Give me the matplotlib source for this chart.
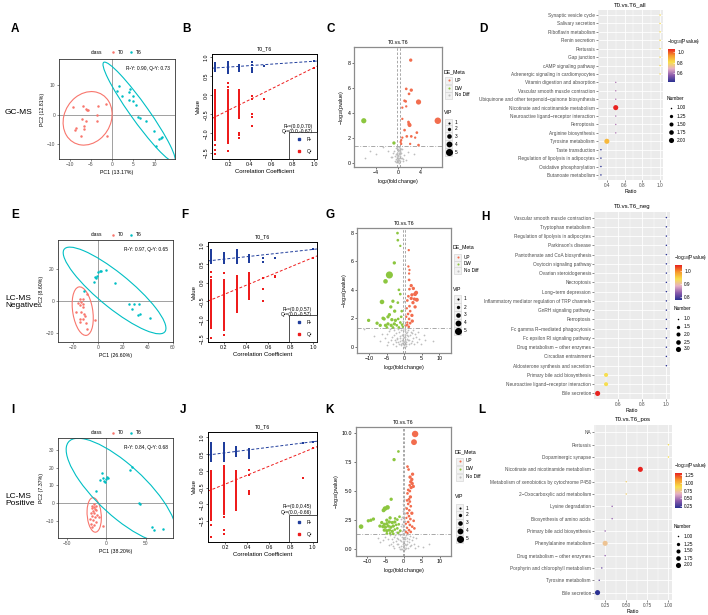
import numpy as np
import matplotlib
matplotlib.use("Agg")
import matplotlib.pyplot as plt
from matplotlib.patches import Ellipse, Rectangle
from matplotlib.lines import Line2D
from matplotlib.colors import LinearSegmentedColormap, Normalize
import matplotlib.colorbar as mcolorbar

plt.rcParams['font.family'] = ['Liberation Sans', 'DejaVu Sans']
plt.rcParams['mathtext.default'] = 'regular'

# ======================= DATA =======================
# ---- PCA score plots (PC1, PC2) ----
A_T0 = [(-9.2, 2.6), (-6.9, 2.8), (-5.9, 1.7), (-5.7, 1.7), (-6.2, 1.9), (-3.4, 3.0), (-1.5, 3.5),
        (-3.5, -0.1), (-3.5, -2.0), (-7.0, -1.5), (-6.2, -2.2), (-8.7, -5.1), (-8.4, -4.6),
        (-6.7, -3.9), (-6.6, -4.8), (-7.4, -7.3), (-1.3, -7.1)]
A_T6 = [(1.7, 9.8), (1.2, 7.9), (2.4, 6.4), (3.9, 7.8), (4.3, 8.7), (4.8, 6.2), (4.0, 5.1), (5.0, 4.7),
        (5.6, 3.1), (6.1, -0.8), (6.5, -1.2), (7.9, -2.2), (9.8, -5.6), (11.1, -8.2), (11.7, -7.5),
        (11.5, -7.9), (10.4, -10.7)]
E_T0 = [(-8.8, 4.4), (-14.5, 1.0), (-12.3, 1.0), (-13.9, -0.4), (-15.8, -1.0), (-14.7, -2.3),
        (-12.1, -2.1), (-17.7, -6.7), (-13.4, -6.9), (-11.5, -8.2), (-10.2, -9.4), (-14.5, -11.1),
        (-12.1, -11.5), (-14.7, -13.2), (-9.9, -14.0), (-9.1, -17.2), (-2.1, -12.1), (-11.6, -4.0)]
E_T6 = [(-11.3, 6.3), (-2.9, 11.5), (-2.4, 14.9), (-1.6, 14.0), (-0.3, 15.7), (0.3, 18.2), (1.6, 18.8),
        (2.9, 18.8), (6.2, 19.5), (13.4, 11.1), (24.7, -1.7), (27.6, -5.2), (28.7, -1.9), (33.0, -1.7),
        (32.4, -8.6), (33.8, -8.4), (41.8, -10.3)]
I_T0 = [(-17.9, -1.5), (-15.7, -2.2), (-18.7, -2.8), (-14.9, -3.1), (-17.0, -4.3), (-13.2, -3.9),
        (-20.0, -5.2), (-16.2, -5.7), (-12.3, -6.5), (-18.3, -6.9), (-14.9, -7.8), (-9.8, -7.4),
        (-20.4, -8.7), (-17.0, -9.6), (-13.6, -10.2), (-19.1, -11.5), (-15.7, -12.0), (-17.9, -13.0),
        (-4.3, -12.6), (-16.2, -0.4), (-12.8, -1.5)]
I_T6 = [(-12.8, 6.7), (-8.5, 13.3), (-6.0, 17.0), (-4.7, 13.9), (-3.0, 12.4), (-0.9, 13.5), (0.9, 14.8),
        (1.7, 13.9), (-1.7, 11.9), (29.8, 18.5), (33.2, 20.4), (41.7, 0.0), (42.6, -0.2), (57.9, -13.0),
        (60.4, -15.2), (72.3, -14.1)]
PCA_stats = ["R²Y: 0.90, Q²Y: 0.73", "R²Y: 0.97, Q²Y: 0.65", "R²Y: 0.84, Q²Y: 0.68"]
PCA_xlabels = ["PC1 (13.17%)", "PC1 (26.60%)", "PC1 (38.20%)"]
PCA_ylabels = ["PC2 (12.81%)", "PC2 (8.60%)", "PC2 (7.37%)"]

# ---- Permutation tests (correlation coefficient columns, R2 / Q2 values) ----
B_cols = [0.07, 0.19, 0.30, 0.42, 0.53, 1.00]
B_R2 = [[0.63, 0.65, 0.67, 0.68, 0.70, 0.71, 0.72, 0.73, 0.74, 0.75, 0.76, 0.77, 0.78, 0.79, 0.80, 0.82, 0.84, 0.85],
        [0.58, 0.62, 0.64, 0.66, 0.68, 0.69, 0.70, 0.71, 0.72, 0.73, 0.74, 0.75, 0.76, 0.78, 0.79, 0.81, 0.83, 0.86],
        [0.63, 0.66, 0.69, 0.71, 0.72, 0.74, 0.76, 0.78, 0.80],
        [0.60, 0.66, 0.72, 0.78, 0.86],
        [0.76],
        [0.89]]
B_Q2 = [[0.15, 0.12, 0.08, 0.05, 0.01, -0.03, -0.07, -0.11, -0.15, -0.19, -0.23, -0.27, -0.31, -0.35, -0.39,
         -0.43, -0.47, -0.51, -0.55, -0.59, -0.63, -0.67, -0.71, -0.75, -0.79, -0.83, -0.87, -0.91, -0.95,
         -0.99, -1.03, -1.07, -1.11, -1.16, -1.31, -1.44, -1.55],
        [0.32, 0.22, 0.15, 0.11, 0.07, 0.03, -0.01, -0.05, -0.09, -0.13, -0.17, -0.21, -0.25, -0.29, -0.33,
         -0.37, -0.41, -0.45, -0.49, -0.53, -0.57, -0.61, -0.65, -0.69, -0.73, -0.77, -0.81, -0.85, -0.89,
         -0.93, -0.97, -1.01, -1.05, -1.09, -1.13, -1.17, -1.21, -1.25, -1.47],
        [0.15, 0.11, 0.07, 0.03, -0.01, -0.05, -0.09, -0.13, -0.17, -0.21, -0.25, -0.29, -0.33, -0.37, -0.41,
         -0.45, -0.49, -0.53, -0.57, -0.60, -0.99, -1.03, -1.12],
        [-0.03, -0.11, -0.50, -0.57, -0.81],
        [-0.09],
        [0.72]]
B_int = (0.70, -0.67)

F_cols = [0.09, 0.20, 0.32, 0.43, 0.55, 0.66, 1.00]
F_R2 = [[0.52, 0.55, 0.58, 0.61, 0.64, 0.67, 0.70, 0.73, 0.76, 0.79, 0.82, 0.85, 0.88],
        [0.52, 0.55, 0.58, 0.61, 0.64, 0.67, 0.70, 0.73, 0.76, 0.80],
        [0.52, 0.55, 0.58, 0.61, 0.64, 0.67, 0.71, 0.75, 0.79, 0.84, 0.88],
        [0.55, 0.59, 0.63, 0.67, 0.70, 0.74],
        [0.57, 0.68],
        [0.68],
        [0.90]]
F_Q2 = [[0.30, 0.16, 0.07, 0.03, -0.01, -0.05, -0.09, -0.13, -0.17, -0.21, -0.25, -0.29, -0.33, -0.37, -0.41,
         -0.45, -0.49, -0.53, -0.57, -0.61, -0.65, -0.69, -0.73, -0.77, -0.81, -0.85, -0.89, -0.93, -0.97,
         -1.01, -1.05, -1.09, -1.13, -1.17, -1.21, -1.48],
        [0.25, 0.07, 0.03, -0.01, -0.05, -0.09, -0.13, -0.17, -0.21, -0.25, -0.29, -0.33, -0.37, -0.41, -0.45,
         -0.49, -0.53, -0.57, -0.61, -0.65, -0.69, -0.73, -0.77, -0.81, -0.85, -0.89, -0.93, -0.97, -1.01,
         -1.05, -1.09, -1.13, -1.17, -1.21, -1.25, -1.28, -1.41],
        [0.18, 0.14, 0.10, 0.06, 0.02, -0.02, -0.06, -0.10, -0.14, -0.18, -0.22, -0.26, -0.30, -0.34, -0.38,
         -0.42, -0.46, -0.50, -0.54, -0.58, -0.62, -0.66, -0.70, -0.74, -0.78],
        [0.27, 0.23, 0.19, 0.15, 0.11, 0.07, 0.03, -0.01, -0.05, -0.09, -0.13, -0.17, -0.21, -0.25, -0.29,
         -0.33, -0.37, -0.41, -0.45],
        [0.12, -0.18, -0.50],
        [0.18, 0.16],
        [0.68]]
F_int = (0.57, -0.57)

J_cols = [0.07, 0.19, 0.30, 0.42, 0.91, 1.00]
J_R2 = [[0.28, 0.33, 0.38, 0.43, 0.48, 0.53, 0.58, 0.63, 0.68, 0.73, 0.78, 0.83],
        [0.28, 0.33, 0.38, 0.43, 0.48, 0.53, 0.58, 0.63, 0.68, 0.73, 0.78, 0.83],
        [0.43, 0.48, 0.53, 0.58, 0.63, 0.67, 0.71],
        [0.38, 0.43, 0.48, 0.53, 0.58, 0.63],
        [0.82],
        [0.86]]
J_Q2 = [[0.00, -0.05, -0.10, -0.15, -0.20, -0.25, -0.30, -0.35, -0.40, -0.45, -0.50, -0.55, -0.60, -0.65,
         -0.70, -0.75, -0.80, -0.85, -0.90, -0.95, -1.00, -1.05, -1.10, -1.15, -1.20, -1.25, -1.30, -1.35,
         -1.40, -1.47, -1.62, -1.97],
        [0.15, 0.10, 0.05, 0.00, -0.05, -0.10, -0.15, -0.20, -0.25, -0.30, -0.35, -0.40, -0.45, -0.50, -0.55,
         -0.60, -0.65, -0.70, -0.75, -0.80, -0.85, -0.90, -0.95, -1.00, -1.05, -1.10, -1.15, -1.20, -1.25,
         -1.30, -1.37, -1.75, -1.89],
        [-0.02, -0.07, -0.12, -0.17, -0.22, -0.27, -0.32, -0.37, -0.42, -0.47, -0.52, -0.57, -0.62, -0.67,
         -0.72, -0.77, -0.82, -0.87, -0.92, -0.97, -1.02, -1.07, -1.12, -1.17],
        [0.01, -0.12, -0.60, -0.65, -0.70],
        [-0.22],
        [0.66]]
J_int = (0.45, -0.66)

# ---- Volcano plots: (log2FC, -log10 p) and VIP ----
C_up = [(2.2, 8.2), (1.4, 5.9), (2.3, 5.8), (1.9, 5.5), (1.3, 4.9), (1.1, 4.95), (3.6, 4.85), (0.7, 4.4),
        (1.4, 4.5), (7.05, 3.35), (0.7, 3.5), (1.8, 3.25), (1.9, 3.1), (2.0, 3.0), (1.1, 2.6), (3.3, 2.4),
        (2.3, 2.1), (1.5, 2.1), (0.7, 2.0), (0.5, 1.8), (3.0, 2.0), (3.6, 1.4), (2.1, 1.5), (0.5, 1.5), (0.4, 1.65)]
C_up_vip = [2.0, 1.5, 2.0, 1.5, 1.5, 1.5, 3.5, 1.2, 1.2, 4.5, 1.2, 1.5, 2.0, 2.5, 1.5, 1.5, 1.5, 1.5, 1.2,
            1.2, 1.2, 1.5, 1.2, 1.2, 1.2]
C_dw = [(-6.2, 3.35), (-0.8, 1.57)]
C_dw_vip = [3.5, 2.0]
C_nd = [(-0.1, 0.1), (0.1, 0.2), (0.0, 0.3), (-0.2, 0.45), (0.2, 0.5), (0.3, 0.15), (-0.3, 0.6), (0.05, 0.75),
        (-0.05, 0.9), (0.15, 1.0), (-0.15, 1.1), (0.4, 0.35), (-0.4, 0.25), (0.5, 0.8), (-0.5, 0.7),
        (0.25, 1.2), (-0.25, 1.25), (0.6, 0.4), (-0.6, 0.55), (0.8, 0.3), (-0.8, 0.95), (0.35, 0.65),
        (-0.35, 1.15), (0.1, 1.28), (-0.1, 0.05), (0.0, 0.55), (0.2, 0.85), (-0.2, 0.2), (0.45, 1.05),
        (-0.45, 0.05), (1.0, 0.6), (-1.0, 0.75), (1.3, 0.2), (-1.3, 0.45), (-1.8, 0.93), (-2.8, 1.25),
        (-4.0, 0.67), (-5.1, 0.93), (-5.9, 0.4), (1.8, 0.85), (2.7, 0.7), (-1.2, 0.45), (0.7, 1.1),
        (-0.7, 0.15), (0.0, 1.0), (0.1, 0.7), (-0.1, 0.35), (0.3, 0.9), (-0.3, 0.8), (0.9, 0.15),
        (0.05, 0.0), (-0.05, 0.2), (0.15, 0.4), (-0.15, 0.6)]

G_up = [(1.3, 6.8), (1.2, 5.65), (1.5, 5.4), (1.4, 5.15), (1.4, 4.7), (2.0, 4.3), (2.6, 4.1), (1.5, 4.05),
        (3.4, 3.8), (3.1, 3.7), (2.2, 3.65), (1.2, 3.55), (3.6, 3.3), (2.9, 3.35), (2.0, 3.4), (0.9, 3.25),
        (2.5, 3.1), (1.5, 2.85), (3.1, 2.8), (0.75, 2.7), (1.7, 2.5), (1.1, 2.3), (2.2, 2.2), (0.6, 2.1),
        (1.4, 1.95), (0.9, 1.7), (1.7, 1.65), (0.6, 1.5), (1.3, 1.4), (0.9, 1.55), (2.3, 1.8)]
G_up_vip = [1.2, 1.2, 1.2, 1.2, 1.5, 2.0, 2.0, 1.5, 2.5, 2.5, 2.0, 1.5, 2.5, 2.0, 2.0, 1.5, 2.0, 1.5, 2.0,
            1.2, 1.5, 1.5, 2.0, 1.2, 1.5, 1.2, 1.5, 1.2, 1.5, 1.2, 2.0]
G_dw = [(-1.9, 8.0), (-1.8, 7.5), (-1.1, 7.1), (-2.8, 5.9), (-4.2, 5.05), (-5.3, 4.6), (-1.5, 4.0),
        (-1.1, 3.7), (-3.2, 3.2), (-6.3, 3.15), (-1.8, 3.1), (-3.8, 2.8), (-2.7, 2.5), (-0.7, 2.5),
        (-6.0, 2.0), (-5.7, 1.95), (-10.1, 1.85), (-4.6, 2.1), (-4.2, 2.25), (-3.5, 1.9), (-2.5, 1.85),
        (-1.7, 1.95), (-0.85, 2.1), (-7.7, 1.65), (-6.8, 1.5), (-5.3, 1.5), (-4.6, 1.6), (-3.7, 1.5),
        (-2.8, 1.6), (-2.1, 1.5), (-1.1, 1.7), (-0.6, 1.55), (-4.9, 1.35), (-3.2, 1.35), (-1.5, 1.35),
        (-0.4, 1.4)]
G_dw_vip = [1.5, 1.5, 1.2, 2.0, 5.0, 3.0, 1.5, 1.5, 2.0, 3.0, 1.5, 2.0, 2.0, 1.5, 2.0, 2.0, 2.0, 2.0, 2.0,
            2.0, 2.0, 1.5, 1.5, 2.0, 2.0, 2.0, 2.0, 2.0, 2.0, 1.5, 1.5, 1.5, 1.5, 1.5, 1.5, 1.2]
G_nd = [(-4.8, 0.9), (-4.2, 1.1), (-3.5, 0.7), (-3.0, 1.2), (-2.6, 0.5), (-2.2, 0.95), (-1.8, 0.3),
        (-1.5, 1.05), (-1.2, 0.6), (-0.9, 0.2), (-0.6, 0.85), (-0.3, 0.4), (0.0, 0.1), (0.3, 0.65),
        (0.6, 0.3), (0.9, 1.0), (1.2, 0.45), (1.6, 0.8), (2.0, 0.25), (2.5, 0.6), (3.0, 0.9), (3.6, 0.35),
        (4.2, 0.55), (-4.5, 0.3), (-3.8, 0.45), (-3.2, 0.2), (-2.8, 0.8), (-2.4, 0.35), (-2.0, 0.6),
        (-1.6, 0.15), (-1.3, 0.75), (-1.0, 1.2), (-0.7, 0.5), (-0.4, 0.9), (-0.1, 0.7), (0.2, 1.1),
        (0.5, 0.05), (0.8, 0.55), (1.1, 0.75), (1.4, 0.2), (1.8, 1.0), (2.3, 0.4), (2.8, 0.15), (3.3, 0.7),
        (-5.5, 0.6), (-6.2, 0.9), (-11.5, 1.25), (-8.7, 0.73), (8.3, 0.38), (5.5, 0.85), (4.8, 0.15),
        (-0.5, 0.25), (0.4, 0.95), (-0.2, 1.3), (0.1, 0.5), (0.0, 0.3), (-0.3, 1.15), (0.3, 1.25),
        (-0.8, 0.1), (0.7, 0.85), (-1.1, 0.4), (1.0, 1.15), (-1.7, 1.25), (1.5, 0.5), (-2.3, 0.05),
        (2.2, 0.95), (-0.4, 0.6), (0.45, 0.2), (-0.15, 0.2), (0.15, 0.8), (-3.9, 1.25), (-2.9, 1.3),
        (-1.9, 0.55), (2.6, 1.2), (3.8, 1.0), (-5.0, 0.1), (-7.0, 0.4), (6.0, 0.5), (0.0, 0.0), (0.25, 0.4),
        (0.1, 2.2), (-0.2, 1.8), (0.2, 2.7), (-0.1, 3.2), (0.0, 1.55)]

K_up = [(3.2, 9.9), (2.9, 9.2), (1.1, 7.1), (1.4, 6.85), (2.5, 6.45), (1.8, 6.2), (2.3, 6.0), (2.0, 5.8),
        (2.4, 5.65), (1.7, 5.5), (2.7, 5.4), (2.1, 5.3), (1.3, 5.1), (1.75, 5.0), (1.1, 4.8), (1.9, 4.5),
        (1.5, 4.3), (1.0, 4.2), (1.75, 4.1), (1.3, 3.9), (2.0, 3.7), (0.9, 3.5), (1.6, 3.35), (1.1, 3.1),
        (2.3, 3.1), (1.5, 2.85), (0.8, 2.7), (1.9, 2.6), (2.8, 2.45), (1.3, 2.35), (0.65, 2.2), (1.75, 2.1),
        (2.4, 1.95), (1.0, 1.85), (3.0, 1.8), (1.5, 1.65), (0.7, 1.5), (2.0, 1.5), (1.1, 1.4)]
K_up_vip = [4.5, 4.0, 1.5, 1.5, 2.0, 2.0, 2.0, 2.0, 2.0, 1.5, 2.0, 2.0, 1.5, 1.5, 1.5, 2.0, 1.5, 1.5, 1.5,
            1.5, 1.5, 1.5, 1.5, 1.5, 2.0, 1.5, 1.2, 1.5, 1.5, 1.5, 1.2, 1.5, 1.5, 1.2, 1.5, 1.5, 1.2, 1.5, 1.2]
K_dw = [(-1.4, 8.4), (-2.6, 7.7), (-3.4, 4.3), (-4.4, 3.6), (-5.1, 3.5), (-5.5, 3.35), (-8.3, 2.6),
        (-9.0, 2.5), (-9.7, 2.45), (-11.7, 1.95), (-4.6, 2.5), (-3.7, 2.7), (-2.3, 2.65), (-6.0, 2.3),
        (-5.3, 2.15), (-4.6, 2.2), (-3.9, 2.35), (-3.1, 2.3), (-2.4, 2.35), (-1.7, 2.55), (-1.1, 2.8),
        (-6.5, 2.0), (-5.7, 1.95), (-5.0, 1.9), (-4.2, 2.0), (-3.5, 1.9), (-2.8, 2.0), (-2.0, 2.1),
        (-1.3, 2.15), (-5.3, 1.65), (-4.6, 1.6), (-3.9, 1.65), (-3.1, 1.55), (-2.4, 1.7), (-1.7, 1.8),
        (-0.9, 1.6), (-3.7, 1.37), (-2.8, 1.33), (-1.5, 1.42), (-4.6, 1.37)]
K_dw_vip = [1.5, 2.0, 2.0, 3.0, 3.0, 2.5, 2.0, 2.0, 2.0, 3.0, 2.0, 2.0, 1.5, 2.0, 2.0, 2.0, 2.0, 2.0, 2.0,
            1.5, 1.5, 2.0, 2.0, 2.0, 2.0, 2.0, 2.0, 1.5, 1.5, 2.0, 2.0, 2.0, 2.0, 1.5, 1.5, 1.5, 1.5, 1.5,
            1.5, 1.5]
K_nd = [(0.1, 4.3), (-0.2, 3.9), (0.3, 3.6), (-0.1, 3.3), (0.2, 3.0), (-0.3, 2.8), (0.0, 2.6), (0.4, 2.4),
        (-0.4, 2.2), (0.1, 2.1), (-0.2, 1.9), (0.3, 1.7), (-0.5, 1.6), (0.5, 1.5), (0.0, 1.4),
        (-3.8, 1.2), (-3.2, 0.9), (-2.7, 1.1), (-2.2, 0.7), (-1.8, 1.0), (-1.4, 0.5), (-1.0, 0.8),
        (-0.7, 0.3), (-0.4, 1.1), (-0.1, 0.6), (0.2, 0.2), (0.5, 0.9), (0.8, 0.4), (1.1, 1.0), (1.5, 0.6),
        (1.9, 0.3), (2.4, 0.8), (2.9, 0.5), (-3.5, 0.5), (-2.9, 0.3), (-2.4, 1.25), (-1.9, 0.45),
        (-1.2, 0.2), (-0.6, 0.7), (0.0, 0.1), (0.3, 0.5), (0.7, 1.2), (1.3, 0.15), (1.7, 1.15), (2.2, 0.35),
        (-4.3, 0.9), (-5.0, 1.1), (-5.6, 0.8), (-6.5, 0.65), (-7.0, 1.0), (4.1, 0.3), (5.5, 0.23),
        (6.9, 0.45), (3.5, 1.0), (-0.3, 0.0), (0.1, 0.35), (-0.2, 0.85), (0.4, 0.05), (-0.9, 1.2),
        (0.9, 0.7), (-1.6, 1.3), (1.2, 1.3), (-2.0, 1.5), (-1.0, 1.7), (-0.8, 2.0), (0.6, 1.9),
        (-1.3, 1.45), (-0.6, 0.0), (0.6, 0.15), (-1.5, 0.9), (1.4, 0.85), (-2.5, 0.15), (2.6, 1.1),
        (-3.0, 0.65), (-0.2, 0.45), (0.2, 0.75), (-0.5, 1.3), (0.4, 1.05), (-0.1, 0.25), (0.0, 0.95),
        (-1.1, 0.05), (1.0, 0.5), (-4.0, 0.35), (3.2, 0.1), (-0.6, 2.6), (0.5, 3.1)]

# ---- KEGG enrichment bubble plots (top -> bottom) ----
D_terms = ["Synaptic vesicle cycle", "Salivary secretion", "Riboflavin metabolism", "Renin secretion",
           "Pertussis", "Gap junction", "cAMP signaling pathway", "Adrenergic signaling in cardiomyocytes",
           "Vitamin digestion and absorption", "Vascular smooth muscle contraction",
           "Ubiquinone and other terpenoid\u2212quinone biosynthesis", "Nicotinate and nicotinamide metabolism",
           "Neuroactive ligand\u2212receptor interaction", "Ferroptosis", "Arginine biosynthesis",
           "Tyrosine metabolism", "Taste transduction", "Regulation of lipolysis in adipocytes",
           "Oxidative phosphorylation", "Butanoate metabolism"]
D_ratio = [1.0, 1.0, 1.0, 1.0, 1.0, 1.0, 1.0, 1.0, 0.5, 0.5, 0.5, 0.5, 0.5, 0.5, 0.5, 0.4, 0.333, 0.333, 0.333, 0.333]
D_logp = [0.80, 0.80, 0.80, 0.80, 0.80, 0.80, 0.80, 0.80, 0.62, 0.62, 0.62, 1.06, 0.62, 0.62, 0.62, 0.88,
          0.44, 0.44, 0.44, 0.44]
D_num = [1, 1, 1, 1, 1, 1, 1, 1, 1, 1, 1, 2, 1, 1, 1, 2, 1, 1, 1, 1]

H_terms = ["Vascular smooth muscle contraction", "Tryptophan metabolism", "Regulation of lipolysis in adipocytes",
           "Parkinson's disease", "Pantothenate and CoA biosynthesis", "Oxytocin signaling pathway",
           "Ovarian steroidogenesis", "Necroptosis", "Long\u2212term depression",
           "Inflammatory mediator regulation of TRP channels", "GnRH signaling pathway", "Ferroptosis",
           "Fc gamma R\u2212mediated phagocytosis", "Fc epsilon RI signaling pathway",
           "Drug metabolism \u2212 other enzymes", "Circadian entrainment", "Aldosterone synthesis and secretion",
           "Primary bile acid biosynthesis", "Neuroactive ligand\u2212receptor interaction", "Bile secretion"]
H_ratio = [1.0, 1.0, 1.0, 1.0, 1.0, 1.0, 1.0, 1.0, 1.0, 1.0, 1.0, 1.0, 1.0, 1.0, 1.0, 1.0, 1.0, 0.5, 0.5, 0.43]
H_logp = [0.78, 0.78, 0.78, 0.78, 0.78, 0.78, 0.78, 0.78, 0.78, 0.78, 0.78, 0.78, 0.78, 0.78, 0.78, 0.78,
          0.78, 0.94, 0.94, 1.05]
H_num = [1, 1, 1, 1, 1, 1, 1, 1, 1, 1, 1, 1, 1, 1, 1, 1, 1, 2, 2, 3]

L_terms = ["NA", "Pertussis", "Dopaminergic synapse", "Nicotinate and nicotinamide metabolism",
           "Metabolism of xenobiotics by cytochrome P450", "2\u2212Oxocarboxylic acid metabolism",
           "Lysine degradation", "Biosynthesis of amino acids", "Primary bile acid biosynthesis",
           "Phenylalanine metabolism", "Drug metabolism \u2212 other enzymes",
           "Porphyrin and chlorophyll metabolism", "Tyrosine metabolism", "Bile secretion"]
L_ratio = [np.nan, 1.0, 1.0, 0.667, 0.5, 0.5, 0.333, 0.333, 0.25, 0.25, 0.25, 0.21, 0.18, 0.16]
L_logp = [np.nan, 0.88, 0.88, 1.33, 0.80, 0.80, 0.45, 0.45, 0.45, 0.74, 0.45, 0.36, 0.32, 0.19]
L_num = [np.nan, 1, 1, 2, 1, 1, 1, 1, 1, 2, 1, 1, 1, 2]

# ======================= STYLE / LAYOUT =======================
W, H = 708, 615
fig = plt.figure(figsize=(W / 100, H / 100), dpi=100)

C_T0, C_T6 = "#F8766D", "#00BFC4"
BLUE, RED = "#1F3D9C", "#EE1C1C"
C_UP, C_DW, C_ND = "#F26D4E", "#8CC63F", "#BEBEBE"
PATH_CMAP = LinearSegmentedColormap.from_list(
    "path", ["#2A3192", "#8A5AAB", "#E6AFC6", "#F8E04B", "#F6982C", "#E8231F"])


def px_axes(x0, y0, x1, y1):
    return fig.add_axes([x0 / W, 1 - y1 / H, (x1 - x0) / W, (y1 - y0) / H])


def ftext(x, y, s, **kw):
    return fig.text(x / W, 1 - y / H, s, **kw)


def fdot(x, y, **kw):
    fig.add_artist(Line2D([x / W], [1 - y / H], transform=fig.transFigure, ls='none', **kw))


def conf_ellipse(pts, chi2=5.991):
    X = np.asarray(pts, float)
    mu = X.mean(0)
    S = np.cov(X.T)
    r = np.sqrt(chi2)
    vals, vecs = np.linalg.eigh(S)
    ang = np.degrees(np.arctan2(vecs[1, 1], vecs[0, 1]))
    return mu, 2 * r * np.sqrt(vals[1]), 2 * r * np.sqrt(vals[0]), ang


# ---------- panel letters and row labels ----------
for lab, x, y in [("A", 15, 29), ("B", 186, 29), ("C", 331, 29), ("D", 483, 29),
                  ("E", 15, 215), ("F", 185, 215), ("G", 330, 215), ("H", 485, 217),
                  ("I", 13, 410), ("J", 183, 410), ("K", 330, 410), ("L", 482, 410)]:
    ftext(x, y, lab, fontsize=8.5, fontweight='bold', ha='center', va='center')
ftext(5, 113, "GC-MS", fontsize=6, ha='left', va='center')
ftext(5, 302, "LC-MS\nNegative", fontsize=6, ha='left', va='center', linespacing=1.1)
ftext(5, 500, "LC-MS\nPositive", fontsize=6, ha='left', va='center', linespacing=1.1)


# ---------- PCA ----------
def pca_panel(rect, t0, t6, xlim, ylim, xticks, yticks, xlabel, ylabel, stat, leg_y):
    ax = px_axes(*rect)
    ax.axhline(0, color='#A0A0A0', lw=0.7, zorder=1)
    ax.axvline(0, color='#A0A0A0', lw=0.7, zorder=1)
    for pts, col in ((t0, C_T0), (t6, C_T6)):
        arr = np.array(pts)
        ax.scatter(arr[:, 0], arr[:, 1], s=3.2, color=col, lw=0, zorder=3)
        mu, w, h, ang = conf_ellipse(pts)
        ax.add_patch(Ellipse(mu, w, h, angle=ang, fill=False, ec=col, lw=0.8, zorder=2))
    ax.set_xlim(*xlim)
    ax.set_ylim(*ylim)
    ax.set_xticks(xticks)
    ax.set_yticks(yticks)
    ax.tick_params(labelsize=3.5, length=1.5, width=0.4, pad=1, colors='#333333', labelcolor='#4D4D4D')
    for s in ax.spines.values():
        s.set_color('#333333')
        s.set_linewidth(0.6)
    ax.set_xlabel(xlabel, fontsize=3.8, labelpad=1.5)
    ax.set_ylabel(ylabel, fontsize=3.8, labelpad=1.5)
    ax.text(0.96, 0.93, stat, transform=ax.transAxes, fontsize=3.5, ha='right', va='top')
    ftext(97, leg_y, "class", fontsize=3.6, ha='center', va='center')
    fdot(113, leg_y, marker='o', ms=1.8, color=C_T0, mew=0)
    ftext(118, leg_y, "T0", fontsize=3.6, ha='left', va='center')
    fdot(131, leg_y, marker='o', ms=1.8, color=C_T6, mew=0)
    ftext(136, leg_y, "T6", fontsize=3.6, ha='left', va='center')


pca_panel((59, 59, 175, 159), A_T0, A_T6, (-12.5, 14.8), (-15.0, 18.8), [-10, -5, 0, 5, 10], [-10, 0, 10],
          PCA_xlabels[0], PCA_ylabels[0], PCA_stats[0], 52)
pca_panel((58, 240, 173, 342), E_T0, E_T6, (-32, 60.3), (-25.5, 37.9), [-20, 0, 20, 40, 60], [-20, 0, 20],
          PCA_xlabels[1], PCA_ylabels[1], PCA_stats[1], 235)
pca_panel((58, 438, 173, 538), I_T0, I_T6, (-61.7, 85), (-19.4, 36.5), [-50, 0, 50], [-10, 0, 10, 20, 30],
          PCA_xlabels[2], PCA_ylabels[2], PCA_stats[2], 433)


# ---------- permutation ----------
def perm_panel(rect, cols, r2, q2, ints, xlim, ylim, txt_y):
    ax = px_axes(*rect)
    for c, vals in zip(cols, r2):
        ax.scatter([c] * len(vals), vals, marker='s', s=3.4, color=BLUE, lw=0, zorder=3)
    for c, vals in zip(cols, q2):
        ax.scatter([c] * len(vals), vals, marker='s', s=3.4, color=RED, lw=0, zorder=3)
    xs = np.array(xlim)
    r2o, q2o = r2[-1][0], q2[-1][0]
    ax.plot(xs, ints[0] + (r2o - ints[0]) * xs, ls=(0, (3, 2)), color=BLUE, lw=0.7, zorder=2)
    ax.plot(xs, ints[1] + (q2o - ints[1]) * xs, ls=(0, (3, 2)), color=RED, lw=0.7, zorder=2)
    ax.set_xlim(*xlim)
    ax.set_ylim(*ylim)
    ax.set_xticks([0.2, 0.4, 0.6, 0.8, 1.0])
    ax.set_yticks([-1.5, -1.0, -0.5, 0.0, 0.5, 1.0])
    ax.tick_params(labelsize=3.8, length=1.5, width=0.4, pad=1)
    for lbl in ax.get_yticklabels():
        lbl.set_rotation(90)
        lbl.set_va('center')
    for s in ax.spines.values():
        s.set_linewidth(0.7)
    ax.set_xlabel("Correlation Coefficient", fontsize=4.3, labelpad=1)
    ax.set_ylabel("Value", fontsize=4.3, labelpad=1.5)
    ax.set_title("T0_T6", fontsize=3.8, pad=3)
    ax.text(0.955, txt_y, "R²=(0.0,%.2f)" % ints[0], transform=ax.transAxes, fontsize=3.5, ha='right', va='center')
    ax.text(0.955, txt_y - 0.05, "Q²=(0.0,%.2f)" % ints[1], transform=ax.transAxes, fontsize=3.5, ha='right',
            va='center')
    hs = [Line2D([], [], ls='none', marker='s', ms=1.6, color=BLUE),
          Line2D([], [], ls='none', marker='s', ms=1.6, color=RED)]
    leg = ax.legend(hs, ["R²", "Q²"], loc='lower right', fontsize=3.5, frameon=True, fancybox=False,
                    edgecolor='black', borderaxespad=0, handlelength=1.6, handletextpad=0.8,
                    borderpad=1.1, labelspacing=1.4)
    leg.get_frame().set_linewidth(0.6)


perm_panel((212, 54, 317, 159), B_cols, B_R2, B_Q2, B_int, (0.044, 1.03), (-1.67, 1.08), 0.31)
perm_panel((208, 242, 317, 342), F_cols, F_R2, F_Q2, F_int, (0.06, 1.035), (-1.6, 1.1), 0.33)
perm_panel((208, 432, 317, 542), J_cols, J_R2, J_Q2, J_int, (0.04, 1.04), (-2.12, 1.15), 0.32)


# ---------- volcano ----------
def vip_size(v):
    return (0.6 + 0.9 * np.asarray(v, float)) ** 2


def volcano_panel(rect, up, up_vip, dw, dw_vip, nd, xlim, ylim, xticks, yticks, yticklabels, leg):
    ax = px_axes(*rect)
    nd_a, up_a, dw_a = np.array(nd), np.array(up), np.array(dw)
    ax.scatter(nd_a[:, 0], nd_a[:, 1], s=1.6, color=C_ND, lw=0, zorder=2)
    ax.scatter(up_a[:, 0], up_a[:, 1], s=vip_size(up_vip), color=C_UP, lw=0, zorder=3)
    ax.scatter(dw_a[:, 0], dw_a[:, 1], s=vip_size(dw_vip), color=C_DW, lw=0, zorder=3)
    ax.axhline(-np.log10(0.05), color='#9A9A9A', lw=0.6, ls=(0, (5, 2, 1, 2)), zorder=1)
    for v in (-0.26, 0.26):
        ax.axvline(v, color='#9A9A9A', lw=0.6, ls=(0, (3, 2)), zorder=1)
    ax.set_xlim(*xlim)
    ax.set_ylim(*ylim)
    ax.set_xticks(xticks)
    ax.set_yticks(yticks)
    ax.set_yticklabels(yticklabels)
    ax.tick_params(labelsize=3.8, length=1.5, width=0.4, pad=1)
    for s in ax.spines.values():
        s.set_color('#8C8C8C')
        s.set_linewidth(0.9)
    ax.set_xlabel("log$_2$(fold change)", fontsize=3.8, labelpad=1)
    ax.set_ylabel("$-$log$_{10}$(pvalue)", fontsize=3.8, labelpad=1)
    ax.set_title("T0.vs.T6", fontsize=3.8, pad=2)
    lx, ty, ky, vty, vky = leg
    ftext(lx, ty, "DE_Meta", fontsize=3.8, ha='left', va='center')
    for yy, col, lab in zip(ky, (C_UP, C_DW, C_ND), ("UP", "DW", "No Diff")):
        fig.add_artist(Rectangle(((lx + 1) / W, 1 - (yy + 3.5) / H), 7 / W, 7 / H, transform=fig.transFigure,
                                 fc='#F2F2F2', ec='#D0D0D0', lw=0.4))
        fdot(lx + 4.5, yy, marker='o', ms=1.5, color=col, mew=0)
        ftext(lx + 11, yy, lab, fontsize=3.4, ha='left', va='center')
    ftext(lx, vty, "VIP", fontsize=3.8, ha='left', va='center')
    for yy, v in zip(vky, [1, 2, 3, 4, 5]):
        fig.add_artist(Rectangle(((lx + 1) / W, 1 - (yy + 3.8) / H), 7 / W, 7.6 / H, transform=fig.transFigure,
                                 fc='#F2F2F2', ec='#D0D0D0', lw=0.4))
        fdot(lx + 4.5, yy, marker='o', ms=float(np.sqrt(vip_size(v))), color='black', mew=0)
        ftext(lx + 11, yy, str(v), fontsize=3.4, ha='left', va='center')


volcano_panel((354, 47, 442, 167), C_up, C_up_vip, C_dw, C_dw_vip, C_nd, (-7.95, 7.8), (-0.35, 9.25),
              [-4, 0, 4], [0, 2, 4, 6, 8], ["0", "2", "4", "6", "8"],
              (444, 72, (80, 88, 95), 113, (123, 129, 136, 144, 152)))
volcano_panel((357, 228, 451, 353), G_up, G_up_vip, G_dw, G_dw_vip, G_nd, (-13.4, 13.3), (-0.45, 8.36),
              [-10, -5, 0, 5, 10], [0, 2, 4, 6, 8], ["0", "2", "4", "6", "8"],
              (453, 247, (257, 264, 271), 289, (299, 307, 315, 323, 331)))
volcano_panel((356, 427, 451, 556), K_up, K_up_vip, K_dw, K_dw_vip, K_nd, (-13.1, 13.1), (-0.57, 10.5),
              [-10, -5, 0, 5, 10], [0, 2.5, 5, 7.5, 10], ["0.0", "2.5", "5.0", "7.5", "10.0"],
              (455, 452, (461, 469, 477), 497, (508, 515, 523, 531, 539)))


# ---------- KEGG bubble ----------
def num_diam(n, nmin, nmax):
    return (1.5 + 3.6 * np.sqrt((np.asarray(n, float) - nmin) / (nmax - nmin))) / 1.389


def path_panel(rect, terms, ratio, logp, num, title, xlim, xticks, xticklabels, vlim,
               cb_rect, cb_ticks, cb_labels, cb_title_xy, size_vals, size_labels, size_title_xy, size_ys, size_x):
    ax = px_axes(*rect)
    ax.set_facecolor('#EBEBEB')
    n = len(terms)
    ys = np.arange(n)[::-1]
    r = np.array(ratio, float)
    lp = np.array(logp, float)
    nm = np.array(num, float)
    ok = ~np.isnan(r)
    nmin, nmax = np.nanmin(nm), np.nanmax(nm)
    norm = Normalize(*vlim)
    ax.scatter(r[ok], ys[ok], s=num_diam(nm[ok], nmin, nmax) ** 2, c=lp[ok], cmap=PATH_CMAP, norm=norm,
               lw=0, zorder=3)
    ax.set_xlim(*xlim)
    ax.set_ylim(-0.6, n - 0.4)
    ax.set_yticks(ys)
    ax.set_yticklabels(terms)
    ax.set_xticks(xticks)
    ax.set_xticklabels(xticklabels)
    minors = [(a + b) / 2 for a, b in zip(xticks[:-1], xticks[1:])]
    step = xticks[1] - xticks[0]
    minors = [xticks[0] - step / 2] + minors + [xticks[-1] + step / 2]
    for m in minors:
        ax.axvline(m, color='white', lw=0.3, zorder=1)
    for t in xticks:
        ax.axvline(t, color='white', lw=0.6, zorder=1)
    for y in ys:
        ax.axhline(y, color='white', lw=0.6, zorder=1)
    for s in ax.spines.values():
        s.set_visible(False)
    ax.tick_params(labelsize=3.4, length=1.2, width=0.4, pad=1, colors='#333333', labelcolor='#4D4D4D')
    ax.set_xlabel("Ratio", fontsize=3.8, labelpad=1)
    ax.set_title(title, fontsize=4.3, pad=3)
    cax = px_axes(*cb_rect)
    cb = mcolorbar.ColorbarBase(cax, cmap=PATH_CMAP, norm=norm, orientation='vertical')
    cb.set_ticks(cb_ticks)
    cb.set_ticklabels(cb_labels)
    cb.outline.set_visible(False)
    cax.tick_params(labelsize=3.4, length=1.5, width=0.4, color='white', pad=1.5, direction='in')
    ftext(cb_title_xy[0], cb_title_xy[1], "$-$log$_{10}$(Pvalue)", fontsize=3.5, ha='left', va='center')
    ftext(size_title_xy[0], size_title_xy[1], "Number", fontsize=3.5, ha='left', va='center')
    for yy, v, lab in zip(size_ys, size_vals, size_labels):
        fdot(size_x, yy, marker='o', ms=float(num_diam(v, nmin, nmax)), color='black', mew=0)
        ftext(size_x + 6, yy, lab, fontsize=3.4, ha='left', va='center')


path_panel((598, 10, 663, 180), D_terms, D_ratio, D_logp, D_num, "T0.vs.T6_all", (0.30, 1.033),
           [0.4, 0.6, 0.8, 1.0], ["0.4", "0.6", "0.8", "1.0"], (0.44, 1.06),
           (668, 49, 675, 82), [0.6, 0.8, 1.0], ["0.6", "0.8", "1.0"], (667, 42),
           [1.0, 1.25, 1.5, 1.75, 2.0], ["1.00", "1.25", "1.50", "1.75", "2.00"], (667, 98),
           (108, 116, 124, 132, 140), 671)
path_panel((594, 212, 670, 399), H_terms, H_ratio, H_logp, H_num, "T0.vs.T6_neg", (0.40, 1.03),
           [0.6, 0.8, 1.0], ["0.6", "0.8", "1.0"], (0.78, 1.05),
           (675, 265, 682, 300), [0.8, 0.9, 1.0], ["0.8", "0.9", "1.0"], (674, 257),
           [1.0, 1.5, 2.0, 2.5, 3.0], ["1.0", "1.5", "2.0", "2.5", "3.0"], (674, 309),
           (319, 327, 334, 342, 349), 678)
path_panel((594, 425, 672, 600), L_terms, L_ratio, L_logp, L_num, "T0.vs.T6_pos", (0.118, 1.042),
           [0.25, 0.5, 0.75, 1.0], ["0.25", "0.50", "0.75", "1.00"], (0.19, 1.33),
           (675, 473, 682, 508), [0.25, 0.5, 0.75, 1.0, 1.25], ["0.25", "0.50", "0.75", "1.00", "1.25"], (674, 466),
           [1.0, 1.25, 1.5, 1.75, 2.0], ["1.00", "1.25", "1.50", "1.75", "2.00"], (674, 526),
           (536, 544, 551, 558, 565), 678)

fig.savefig("out.png", dpi=100)
